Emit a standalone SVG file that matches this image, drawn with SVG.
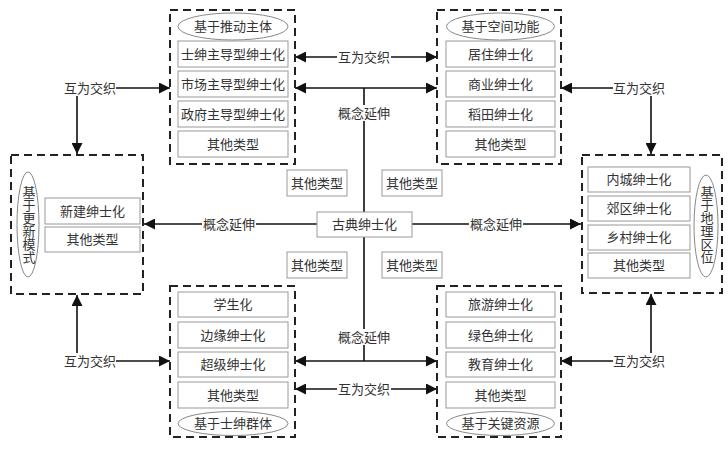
<svg xmlns="http://www.w3.org/2000/svg" width="728" height="449" viewBox="0 0 728 449">
<style>
text{font-family:"Liberation Serif","Noto Sans CJK SC",serif;font-size:13px;fill:#333;text-anchor:middle;dominant-baseline:central}
.vt{writing-mode:vertical-rl;glyph-orientation-vertical:0}
.grp{fill:none;stroke:#222;stroke-width:2;stroke-dasharray:8,5}
.box{fill:#fff;stroke:#999;stroke-width:1}
.ell{fill:#fff;stroke:#888;stroke-width:1}
.ln{fill:none;stroke:#111;stroke-width:1.6}
.bg{fill:#fff}
</style>
<defs>
<marker id="ah" markerUnits="userSpaceOnUse" markerWidth="11" markerHeight="11" refX="10" refY="5" orient="auto-start-reverse" viewBox="0 0 10 10">
<path d="M0,0 L10,5 L0,10 z" fill="#111"/>
</marker>
</defs>
<rect width="728" height="449" fill="#fff"/>

<g id="connectors">
<line class="ln" x1="295" y1="57" x2="437" y2="57" marker-start="url(#ah)" marker-end="url(#ah)"/>
<rect class="bg" x="337" y="49" width="54" height="16"/>
<text x="364" y="57">互为交织</text>

<line class="ln" x1="295" y1="88" x2="437" y2="88" marker-start="url(#ah)" marker-end="url(#ah)"/>
<line class="ln" x1="364" y1="88" x2="364" y2="212"/>
<rect class="bg" x="337" y="105" width="54" height="16"/>
<text x="364" y="113">概念延伸</text>

<line class="ln" x1="295" y1="361" x2="437" y2="361" marker-start="url(#ah)" marker-end="url(#ah)"/>
<line class="ln" x1="364" y1="237" x2="364" y2="361"/>
<rect class="bg" x="337" y="329" width="54" height="16"/>
<text x="364" y="337">概念延伸</text>

<line class="ln" x1="295" y1="389" x2="437" y2="389" marker-start="url(#ah)" marker-end="url(#ah)"/>
<rect class="bg" x="337" y="381" width="54" height="16"/>
<text x="364" y="389">互为交织</text>

<line class="ln" x1="317" y1="224" x2="144" y2="224" marker-end="url(#ah)"/>
<rect class="bg" x="202" y="216" width="54" height="16"/>
<text x="229" y="224">概念延伸</text>
<line class="ln" x1="412" y1="224" x2="581" y2="224" marker-end="url(#ah)"/>
<rect class="bg" x="469" y="216" width="54" height="16"/>
<text x="496" y="224">概念延伸</text>

<text x="90" y="88">互为交织</text>
<line class="ln" x1="116" y1="88" x2="170" y2="88" marker-end="url(#ah)"/>
<line class="ln" x1="77" y1="96" x2="77" y2="154" marker-end="url(#ah)"/>

<text x="90" y="361">互为交织</text>
<line class="ln" x1="116" y1="361" x2="170" y2="361" marker-end="url(#ah)"/>
<line class="ln" x1="77" y1="353" x2="77" y2="295" marker-end="url(#ah)"/>

<text x="639" y="88">互为交织</text>
<line class="ln" x1="613" y1="88" x2="561" y2="88" marker-end="url(#ah)"/>
<line class="ln" x1="651" y1="96" x2="651" y2="154" marker-end="url(#ah)"/>

<text x="639" y="361">互为交织</text>
<line class="ln" x1="613" y1="361" x2="561" y2="361" marker-end="url(#ah)"/>
<line class="ln" x1="651" y1="353" x2="651" y2="294" marker-end="url(#ah)"/>
</g>

<g id="center">
<rect class="box" x="317" y="212" width="95" height="25"/>
<text x="364.5" y="224.5">古典绅士化</text>
</g>
<g id="other-tl"><rect class="box" x="287" y="170" width="60" height="26"/><text x="317" y="183">其他类型</text></g>
<g id="other-tr"><rect class="box" x="382" y="170" width="60" height="26"/><text x="412" y="183">其他类型</text></g>
<g id="other-bl"><rect class="box" x="287" y="252" width="60" height="26"/><text x="317" y="265">其他类型</text></g>
<g id="other-br"><rect class="box" x="382" y="252" width="60" height="26"/><text x="412" y="265">其他类型</text></g>

<g id="group-driver">
<rect class="grp" x="170" y="10" width="125" height="154"/>
<ellipse class="ell" cx="233" cy="26.5" rx="55" ry="13.5"/>
<text x="233" y="26.5">基于推动主体</text>
<rect class="box" x="178" y="41" width="110" height="26"/><text x="233" y="54">士绅主导型绅士化</text>
<rect class="box" x="178" y="71" width="110" height="26"/><text x="233" y="84">市场主导型绅士化</text>
<rect class="box" x="178" y="101" width="110" height="26"/><text x="233" y="114">政府主导型绅士化</text>
<rect class="box" x="178" y="131" width="110" height="26"/><text x="233" y="144">其他类型</text>
</g>

<g id="group-space">
<rect class="grp" x="437" y="10" width="124" height="154"/>
<ellipse class="ell" cx="500.5" cy="26.5" rx="54" ry="13.5"/>
<text x="500.5" y="26.5">基于空间功能</text>
<rect class="box" x="446" y="41" width="109" height="26"/><text x="500.5" y="54">居住绅士化</text>
<rect class="box" x="446" y="71" width="109" height="26"/><text x="500.5" y="84">商业绅士化</text>
<rect class="box" x="446" y="101" width="109" height="26"/><text x="500.5" y="114">稻田绅士化</text>
<rect class="box" x="446" y="131" width="109" height="26"/><text x="500.5" y="144">其他类型</text>
</g>

<g id="group-renewal">
<rect class="grp" x="11" y="155" width="132" height="139"/>
<ellipse class="ell" cx="28" cy="224.5" rx="11" ry="52.5"/>
<text class="vt" x="28" y="224.5">基于更新模式</text>
<rect class="box" x="45" y="198" width="95" height="26"/><text x="92.5" y="211">新建绅士化</text>
<rect class="box" x="45" y="227" width="95" height="25"/><text x="92.5" y="239.5">其他类型</text>
</g>

<g id="group-location">
<rect class="grp" x="582" y="155" width="140" height="138"/>
<rect class="box" x="588" y="167" width="102" height="25"/><text x="639" y="179.5">内城绅士化</text>
<rect class="box" x="588" y="196" width="102" height="25"/><text x="639" y="208.5">郊区绅士化</text>
<rect class="box" x="588" y="225" width="102" height="25"/><text x="639" y="237.5">乡村绅士化</text>
<rect class="box" x="588" y="253" width="102" height="25"/><text x="639" y="265.5">其他类型</text>
<ellipse class="ell" cx="706" cy="226" rx="12" ry="51"/>
<text class="vt" x="706" y="225">基于地理区位</text>
</g>

<g id="group-gentry">
<rect class="grp" x="170" y="286" width="125" height="151"/>
<rect class="box" x="178" y="292" width="110" height="25"/><text x="233" y="304.5">学生化</text>
<rect class="box" x="178" y="322" width="110" height="26"/><text x="233" y="335">边缘绅士化</text>
<rect class="box" x="178" y="352" width="110" height="25"/><text x="233" y="364.5">超级绅士化</text>
<rect class="box" x="178" y="382" width="110" height="26"/><text x="233" y="395">其他类型</text>
<ellipse class="ell" cx="233" cy="423.5" rx="55" ry="12"/>
<text x="233" y="423.5">基于士绅群体</text>
</g>

<g id="group-resource">
<rect class="grp" x="437" y="286" width="124" height="151"/>
<rect class="box" x="446" y="292" width="109" height="25"/><text x="500.5" y="304.5">旅游绅士化</text>
<rect class="box" x="446" y="322" width="109" height="26"/><text x="500.5" y="335">绿色绅士化</text>
<rect class="box" x="446" y="352" width="109" height="25"/><text x="500.5" y="364.5">教育绅士化</text>
<rect class="box" x="446" y="382" width="109" height="26"/><text x="500.5" y="395">其他类型</text>
<ellipse class="ell" cx="500.5" cy="423.5" rx="54" ry="12"/>
<text x="500.5" y="423.5">基于关键资源</text>
</g>
</svg>
